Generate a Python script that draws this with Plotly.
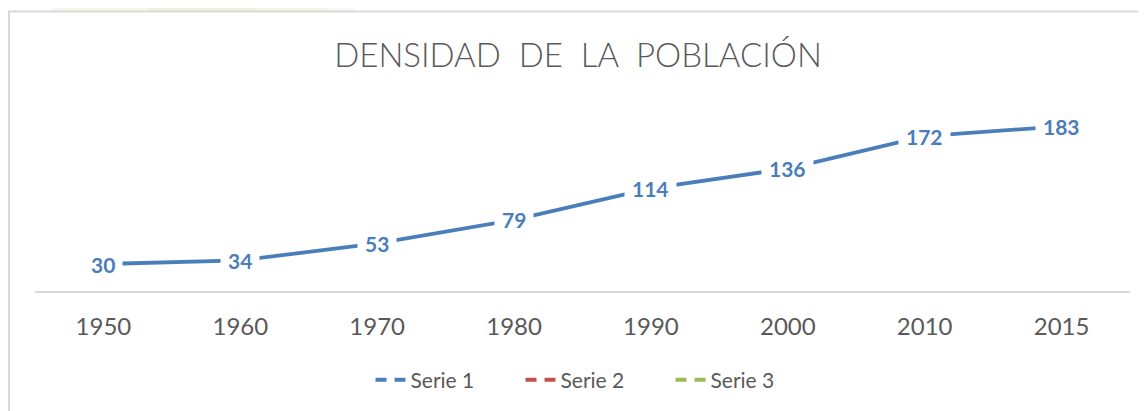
"""Densidad de la población — gráfico de líneas con etiquetas."""

import plotly.graph_objects as go

years = ["1950", "1960", "1970", "1980", "1990", "2000", "2010", "2015"]
serie1 = [30, 34, 53, 79, 114, 136, 172, 183]
serie2 = [None] * len(years)
serie3 = [None] * len(years)

BLUE = "#4a7ebb"
RED = "#c0504d"
GREEN = "#9bbb59"
GRAY_TXT = "#595959"
FONT = "Lato"

# la página tiene 8px de margen en el body: figura un poco más pequeña
W, H = 1138, 403
L, R, T, B = 27, 16, 103, 120
PW, PH = W - L - R, H - T - B


def px_x(x):
    return (x - L) / PW


def px_y(y):
    return (H - B - y) / PH


fig = go.Figure()

# línea real (sin leyenda, la leyenda va con trazos discontinuos)
fig.add_trace(go.Scatter(
    x=years, y=serie1, mode="lines", showlegend=False,
    line=dict(color=BLUE, width=3.8), hoverinfo="skip",
))

for name, vals, col in [("Serie 1", [None] * len(years), BLUE),
                        ("Serie 2", serie2, RED),
                        ("Serie 3", serie3, GREEN)]:
    fig.add_trace(go.Scatter(
        x=years, y=vals, mode="lines", name=name,
        line=dict(color=col, width=4, dash="11px,8px"),
    ))

# etiquetas de datos centradas sobre los puntos (x = índice de categoría)
for i, y in enumerate(serie1):
    fig.add_annotation(
        x=i, y=y, text=f"<b>{y}</b>", showarrow=False,
        font=dict(family=FONT, size=21, color=BLUE),
        bgcolor="white", borderpad=7,
    )

# fondo decorativo arriba + marco del gráfico
for x0, x1, op in [(45, 140, 0.35), (140, 250, 0.55), (250, 320, 0.4), (320, 347, 0.2)]:
    fig.add_shape(type="rect", xref="paper", yref="paper",
                  x0=px_x(x0), x1=px_x(x1), y0=px_y(3), y1=px_y(0),
                  fillcolor="#dfe9b4", opacity=op, line_width=0, layer="below")
fig.add_shape(type="rect", xref="paper", yref="paper",
              x0=px_x(1), x1=px_x(W + 20), y0=px_y(H + 20), y1=px_y(3.5),
              line=dict(color="#d9d9d9", width=2), fillcolor="rgba(0,0,0,0)")

fig.update_layout(
    width=W, height=H,
    margin=dict(l=L, r=R, t=T, b=B),
    paper_bgcolor="white", plot_bgcolor="white",
    title=dict(
        text="DENSIDAD\u00a0 DE\u00a0 LA\u00a0 POBLACIÓN",
        x=570 / W, xanchor="center", y=1 - 47 / H, yanchor="middle",
        font=dict(family=FONT, size=33, color=GRAY_TXT, weight=300),
    ),
    xaxis=dict(
        type="category", range=[-0.5, len(years) - 0.5],
        showgrid=False, zeroline=False,
        showline=True, linecolor="#d9d9d9", linewidth=1.5,
        ticks="", tickfont=dict(family=FONT, size=24, color=GRAY_TXT),
        ticklabelstandoff=13,
    ),
    yaxis=dict(range=[0, 200], visible=False, showgrid=False),
    legend=dict(
        orientation="h", xref="container", yref="container",
        x=587.5 / W, xanchor="center", y=1 - 372 / H, yanchor="middle",
        font=dict(family=FONT, size=21, color=GRAY_TXT),
        entrywidth=105,
    ),
    showlegend=True,
)

fig.write_html("out.html")
